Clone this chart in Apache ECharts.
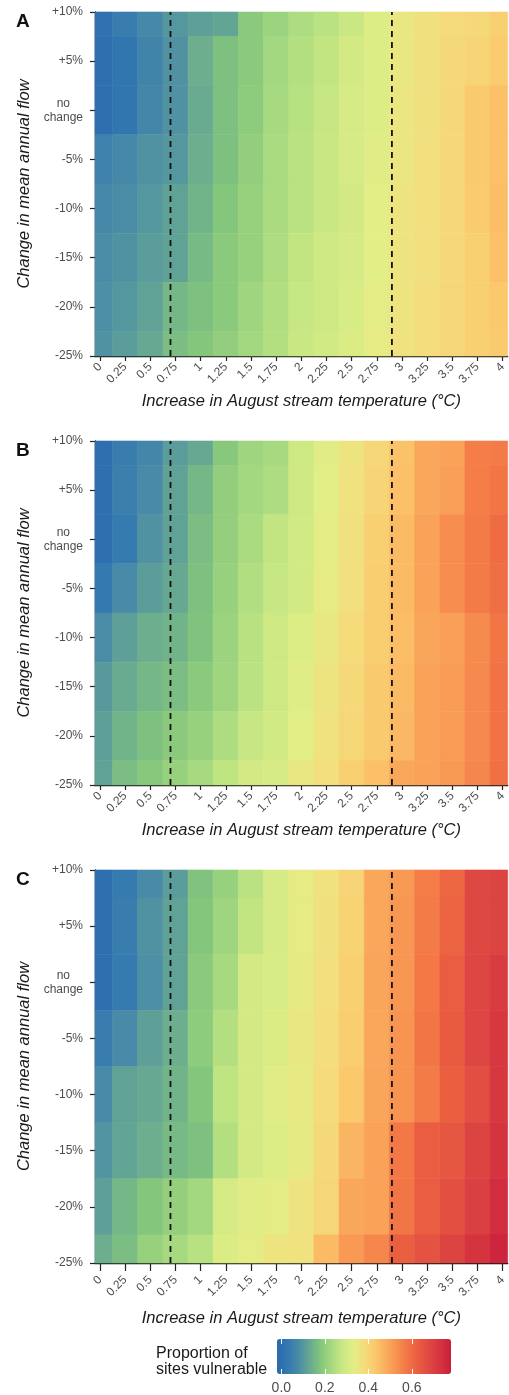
<!DOCTYPE html>
<html><head><meta charset="utf-8">
<script src="https://cdn.jsdelivr.net/npm/echarts@6/dist/echarts.min.js"></script>
<style>html,body{margin:0;padding:0;background:#fff}#chart{width:509px;height:1395px}</style>
</head><body><div id="chart"></div>
<script>
const tempIncrease = [0,0.25,0.5,0.75,1,1.25,1.5,1.75,2,2.25,2.5,2.75,3,3.25,3.5,3.75,4];
const tempTickLabels = ['0','0.25','0.5','0.75','1','1.25','1.5','1.75','2','2.25','2.5','2.75','3','3.25','3.5','3.75','4'];
const flowChange = [10,5,0,-5,-10,-15,-20,-25];
const flowTickLabels = ['+10%','+5%','no\nchange','-5%','-10%','-15%','-20%','-25%'];
const thresholds = [0.7, 2.9];
const panelLabels = ['A','B','C'];
const legendTicks = [0,0.2,0.4,0.6];
const legendTickLabels = ['0.0','0.2','0.4','0.6'];
const xTitle = 'Increase in August stream temperature (°C)';
const yTitle = 'Change in mean annual flow';
const legendTitle = 'Proportion of\nsites vulnerable';

// rows follow flowChange (+10% ... -25%), columns follow tempIncrease
const panelA = [
  [0.01,0.04,0.07,0.10,0.115,0.125,0.19,0.215,0.24,0.26,0.28,0.32,0.35,0.37,0.385,0.39,0.41],
  [0.00,0.02,0.06,0.09,0.14,0.17,0.19,0.225,0.25,0.27,0.30,0.32,0.35,0.37,0.39,0.40,0.42],
  [0.00,0.02,0.065,0.09,0.135,0.17,0.195,0.23,0.255,0.275,0.305,0.32,0.355,0.37,0.39,0.425,0.445],
  [0.05,0.07,0.09,0.10,0.14,0.17,0.20,0.235,0.26,0.28,0.305,0.325,0.355,0.375,0.39,0.425,0.445],
  [0.07,0.08,0.10,0.12,0.15,0.18,0.21,0.235,0.26,0.28,0.30,0.33,0.36,0.375,0.39,0.42,0.45],
  [0.08,0.09,0.11,0.12,0.16,0.19,0.21,0.24,0.27,0.29,0.305,0.33,0.36,0.375,0.39,0.41,0.445],
  [0.085,0.10,0.12,0.155,0.17,0.19,0.22,0.245,0.275,0.29,0.31,0.335,0.36,0.38,0.395,0.41,0.43],
  [0.09,0.11,0.13,0.165,0.18,0.20,0.225,0.25,0.28,0.295,0.315,0.34,0.365,0.38,0.395,0.41,0.425]
];
const panelB = [
  [0.00,0.04,0.065,0.11,0.13,0.185,0.22,0.23,0.285,0.325,0.36,0.395,0.44,0.49,0.50,0.565,0.57],
  [0.00,0.045,0.075,0.12,0.155,0.20,0.225,0.24,0.29,0.33,0.365,0.40,0.445,0.49,0.505,0.565,0.58],
  [0.00,0.035,0.09,0.12,0.165,0.205,0.235,0.27,0.295,0.335,0.37,0.41,0.455,0.50,0.535,0.57,0.60],
  [0.03,0.075,0.11,0.13,0.17,0.21,0.245,0.275,0.30,0.34,0.375,0.415,0.455,0.50,0.535,0.57,0.595],
  [0.08,0.115,0.14,0.15,0.175,0.215,0.255,0.29,0.32,0.35,0.385,0.415,0.45,0.495,0.505,0.54,0.58],
  [0.105,0.135,0.155,0.165,0.19,0.22,0.26,0.29,0.325,0.36,0.39,0.425,0.455,0.50,0.51,0.545,0.585],
  [0.115,0.15,0.17,0.19,0.21,0.24,0.275,0.295,0.33,0.365,0.395,0.425,0.46,0.50,0.51,0.545,0.585],
  [0.12,0.165,0.185,0.21,0.23,0.265,0.30,0.305,0.35,0.375,0.41,0.445,0.49,0.50,0.515,0.55,0.59]
];
const panelC = [
  [0.00,0.035,0.075,0.11,0.175,0.21,0.26,0.305,0.34,0.365,0.40,0.49,0.515,0.565,0.61,0.68,0.69],
  [0.00,0.04,0.09,0.12,0.18,0.22,0.27,0.305,0.34,0.37,0.405,0.49,0.52,0.57,0.615,0.68,0.69],
  [0.00,0.035,0.085,0.12,0.19,0.23,0.30,0.31,0.345,0.375,0.41,0.495,0.52,0.575,0.63,0.685,0.71],
  [0.04,0.075,0.115,0.14,0.195,0.25,0.30,0.315,0.35,0.38,0.415,0.49,0.525,0.58,0.635,0.685,0.72],
  [0.075,0.12,0.13,0.15,0.18,0.265,0.30,0.325,0.345,0.385,0.43,0.495,0.525,0.57,0.625,0.665,0.72],
  [0.095,0.125,0.14,0.16,0.17,0.25,0.30,0.32,0.345,0.39,0.465,0.50,0.575,0.63,0.645,0.69,0.73],
  [0.115,0.155,0.18,0.205,0.225,0.305,0.325,0.335,0.36,0.395,0.49,0.50,0.58,0.63,0.66,0.70,0.745],
  [0.14,0.165,0.21,0.23,0.255,0.315,0.335,0.36,0.365,0.455,0.515,0.55,0.625,0.655,0.69,0.73,0.765]
];
const panels = [panelA, panelB, panelC];

const palette = ['#2a68ae','#3479b0','#4a8ca6','#66a892','#84c67c','#a6d980','#c9e883','#e2ee86',
  '#f4dd7c','#fbc86c','#faad5e','#f79150','#f27545','#ea5d40','#de4842','#d5343f','#c81e3c'];

const layouts = [
  {top:12, height:344, tickLen:5, labelMargin:9, nameGap:37},
  {top:441, height:344, tickLen:5, labelMargin:9, nameGap:37},
  {top:870, height:393, tickLen:8, labelMargin:15, nameGap:47}
];
const FONT = 'Liberation Sans, Arial, Helvetica, sans-serif';
const xStep = tempIncrease[1] - tempIncrease[0];
const yStep = flowChange[0] - flowChange[1];
const yMin = Math.min(...flowChange), yMax = Math.max(...flowChange);

function renderCell(params, api) {
  const x = api.value(0), y = api.value(1);
  const size = api.size([xStep, yStep]);
  const c = api.coord([x, y]);
  const cs = params.coordSys;
  const rect = echarts.graphic.clipRectByRect(
    {x: c[0] - size[0] / 2, y: c[1] - size[1] / 2, width: size[0], height: size[1]},
    {x: cs.x, y: cs.y, width: cs.width, height: cs.height});
  if (!rect) return;
  const col = api.visual('color');
  return {type: 'rect', shape: rect, style: {fill: col, stroke: col, lineWidth: 0.6}};
}

const grids = [], xAxes = [], yAxes = [], titles = [];
const cellSeries = [], lineSeries = [];
layouts.forEach((L, i) => {
  grids.push({left: 95, top: L.top, width: 417, height: L.height});
  xAxes.push({
    type: 'value', gridIndex: i, min: -0.05, max: 4.05,
    name: xTitle, nameLocation: 'middle', nameGap: L.nameGap,
    nameTextStyle: {fontFamily: FONT, fontSize: 16.5, fontStyle: 'italic', color: '#1a1a1a'},
    axisLine: {show: true, onZero: false, lineStyle: {color: '#111', width: 1.4}},
    axisTick: {show: true, length: L.tickLen, customValues: tempIncrease, lineStyle: {color: '#222', width: 1.2}},
    axisLabel: {customValues: tempIncrease, rotate: 45, margin: L.labelMargin, fontFamily: FONT, fontSize: 12, color: '#4d4d4d',
      formatter: v => tempTickLabels[tempIncrease.indexOf(v)] ?? ''},
    splitLine: {show: false}
  });
  yAxes.push({
    type: 'value', gridIndex: i, min: yMin, max: yMax, interval: yStep,
    name: yTitle, nameLocation: 'middle', nameGap: 48, nameRotate: 90,
    nameTextStyle: {fontFamily: FONT, fontSize: 16.5, fontStyle: 'italic', color: '#1a1a1a'},
    axisLine: {show: true, onZero: false, lineStyle: {color: '#111', width: 1.4}},
    axisTick: {show: true, length: 5, lineStyle: {color: '#222', width: 1.2}},
    axisLabel: {margin: 12, fontFamily: FONT, fontSize: 12, color: '#4d4d4d',
      formatter: v => {
        const s = flowTickLabels[flowChange.indexOf(v)] ?? '';
        return s.indexOf('\n') >= 0 ? s.split('\n').map(t => '{c|' + t + '}').join('\n') : s;
      },
      rich: {c: {align: 'center', fontFamily: FONT, fontSize: 12, color: '#4d4d4d', lineHeight: 14}}},
    splitLine: {show: false}
  });
  const data = [];
  panels[i].forEach((row, r) => row.forEach((v, c) => data.push([tempIncrease[c], flowChange[r], v])));
  cellSeries.push({type: 'custom', xAxisIndex: i, yAxisIndex: i, renderItem: renderCell, data: data,
    encode: {x: 0, y: 1}, silent: true, z: 2});
  thresholds.forEach(t => {
    lineSeries.push({type: 'line', xAxisIndex: i, yAxisIndex: i, data: [[t, yMin], [t, yMax]],
      symbol: 'none', silent: true, z: 5, animation: false,
      lineStyle: {color: '#111', width: 1.8, type: [6, 5]}});
  });
  titles.push({text: panelLabels[i], left: 11, top: L.top - 5,
    textStyle: {fontFamily: FONT, fontSize: 19, fontWeight: 'bold', color: '#111'}});
});

// legend axis (labels and white ticks of the colour bar)
grids.push({left: 277, top: 1339, width: 174, height: 35});
xAxes.push({type: 'value', gridIndex: 3, min: -0.02, max: 0.78, position: 'bottom', z: 10,
  axisLine: {show: false},
  axisTick: {show: true, inside: true, length: 5, customValues: legendTicks, lineStyle: {color: '#fff', width: 1}},
  axisLabel: {customValues: legendTicks, margin: 7, fontFamily: FONT, fontSize: 14, color: '#4d4d4d',
    formatter: v => legendTickLabels[legendTicks.indexOf(v)] ?? ''},
  splitLine: {show: false}});
xAxes.push({type: 'value', gridIndex: 3, min: -0.02, max: 0.78, position: 'top', z: 10,
  axisLine: {show: false},
  axisTick: {show: true, inside: true, length: 5, customValues: legendTicks, lineStyle: {color: '#fff', width: 1}},
  axisLabel: {show: false}, splitLine: {show: false}});
yAxes.push({type: 'value', gridIndex: 3, min: 0, max: 1, show: false});

const chart = echarts.init(document.getElementById('chart'), null, {renderer: 'canvas'});
chart.setOption({
  animation: false,
  backgroundColor: '#fff',
  title: titles,
  grid: grids,
  xAxis: xAxes,
  yAxis: yAxes,
  visualMap: {
    type: 'continuous', min: -0.02, max: 0.78, dimension: 2, seriesIndex: [0, 1, 2],
    orient: 'horizontal', left: 277, top: 1339, itemWidth: 35, itemHeight: 174,
    text: null, showLabel: false, calculable: false, hoverLink: false, padding: 0,
    inRange: {color: palette}
  },
  graphic: [{type: 'text', left: 156, top: 1346,
    style: {text: legendTitle, fontFamily: FONT, fontSize: 16, lineHeight: 16, fill: '#1a1a1a'}}],
  series: cellSeries.concat(lineSeries)
});
</script></body></html>
